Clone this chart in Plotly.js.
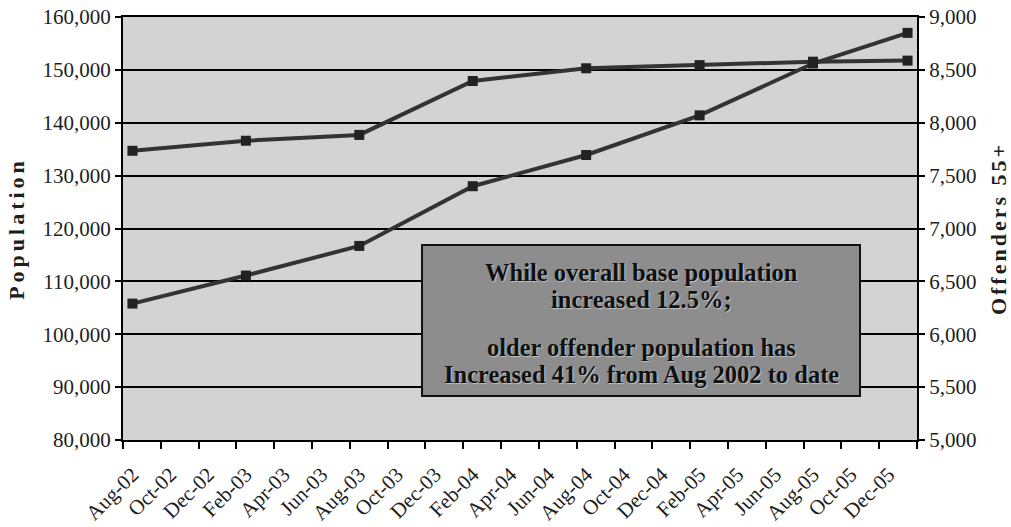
<!DOCTYPE html>
<html>
<head>
<meta charset="utf-8">
<script src="https://cdn.plot.ly/plotly-3.0.1.min.js"></script>
<style>
  html, body { margin: 0; padding: 0; background: #ffffff; }
  #chart { width: 1011px; height: 527px; }
  .ytitle { letter-spacing: 4px; }
  .y2title { letter-spacing: 3px; }
</style>
</head>
<body>
<div id="chart"></div>
<script>
// ---- data ----
const pointMonths = ['Aug-02', 'Feb-03', 'Aug-03', 'Feb-04', 'Aug-04', 'Feb-05', 'Aug-05', 'Jan-06'];
const population = [134700, 136600, 137700, 147900, 150300, 150900, 151550, 151750];
const offenders55 = [6290, 6555, 6835, 7400, 7695, 8070, 8560, 8850];
const tickLabels = ['Aug-02', 'Oct-02', 'Dec-02', 'Feb-03', 'Apr-03', 'Jun-03', 'Aug-03',
  'Oct-03', 'Dec-03', 'Feb-04', 'Apr-04', 'Jun-04', 'Aug-04', 'Oct-04', 'Dec-04',
  'Feb-05', 'Apr-05', 'Jun-05', 'Aug-05', 'Oct-05', 'Dec-05'];
const boxLines = ['While overall base population', 'increased 12.5%;',
  'older offender population has', 'Increased 41% from Aug 2002 to date'];
const leftTitle = 'Population';
const rightTitle = 'Offenders 55+';

// ---- helpers ----
const MON = ['Jan','Feb','Mar','Apr','May','Jun','Jul','Aug','Sep','Oct','Nov','Dec'];
function monthIndex(s) {            // months since Aug-02
  const [m, y] = s.split('-');
  return (2000 + parseInt(y, 10) - 2002) * 12 + MON.indexOf(m) - 7;
}
const xPts = pointMonths.map(monthIndex);
const xLab = tickLabels.map(monthIndex);
const totalMonths = monthIndex('Jan-06') + 1;
const boundaries = [];
for (let b = -0.5; b <= totalMonths - 0.5 + 1e-9; b += 2) boundaries.push(b);

const serif = '"Liberation Serif"';
const lineStyle = { color: '#333333', width: 4 };
const markerStyle = { symbol: 'square', size: 10, color: '#222222' };

const traces = [
  { x: xPts, y: population, yaxis: 'y', type: 'scatter', mode: 'lines+markers',
    name: 'Population', line: lineStyle, marker: markerStyle },
  { x: xPts, y: offenders55, yaxis: 'y2', type: 'scatter', mode: 'lines+markers',
    name: 'Offenders 55+', line: lineStyle, marker: markerStyle }
];

const bx0 = 0.3766, bx1 = 0.9282, by0 = 0.104, by1 = 0.461;
const lineY = [0.397, 0.331, 0.2175, 0.1537];
const annotations = boxLines.map((t, i) => ({
  text: t, xref: 'paper', yref: 'paper', x: (bx0 + bx1) / 2, y: lineY[i],
  xanchor: 'center', yanchor: 'middle', showarrow: false,
  font: { family: serif, size: 24.5, color: '#101010', weight: 'bold',
          shadow: '1px 1px 1px rgba(235,235,235,0.6)' }
}));

const layout = {
  width: 1011, height: 527,
  margin: { l: 123, r: 94, t: 17, b: 87 },
  paper_bgcolor: '#ffffff',
  plot_bgcolor: '#d3d3d3',
  showlegend: false,
  font: { family: serif, color: '#1e1e1e', size: 20 },
  xaxis: {
    range: [-0.5, totalMonths - 0.5],
    tickmode: 'array', tickvals: xLab, ticktext: tickLabels,
    tickangle: -45, ticks: '', ticklabelstandoff: 12,
    tickfont: { family: serif, size: 21, color: '#1e1e1e' },
    showgrid: false, zeroline: false,
    showline: true, linecolor: '#000', linewidth: 2, mirror: true,
    minor: { tickmode: 'array', tickvals: boundaries, ticks: 'outside',
             ticklen: 7, tickwidth: 2, tickcolor: '#000', showgrid: false },
    fixedrange: true
  },
  yaxis: {
    range: [80000, 160000], dtick: 10000, tick0: 80000, tickformat: ',',
    ticks: 'outside', ticklen: 6, tickwidth: 2, tickcolor: '#000',
    showgrid: true, gridcolor: '#000', gridwidth: 2, zeroline: false,
    showline: true, linecolor: '#000', linewidth: 2,
    tickfont: { family: serif, size: 21, color: '#1e1e1e' },
    title: { text: leftTitle, standoff: 12,
             font: { family: serif, size: 22, color: '#1e1e1e', weight: 'bold' } }
  },
  yaxis2: {
    overlaying: 'y', side: 'right',
    range: [5000, 9000], dtick: 500, tick0: 5000, tickformat: ',',
    ticks: 'outside', ticklen: 6, tickwidth: 2, tickcolor: '#000',
    showgrid: false, zeroline: false,
    showline: true, linecolor: '#000', linewidth: 2,
    tickfont: { family: serif, size: 21, color: '#1e1e1e' },
    title: { text: rightTitle, standoff: 16,
             font: { family: serif, size: 22, color: '#1e1e1e', weight: 'bold' } }
  },
  shapes: [{
    type: 'rect', xref: 'paper', yref: 'paper', x0: bx0, x1: bx1, y0: by0, y1: by1,
    fillcolor: '#8d8d8d', line: { color: '#111', width: 2 }, layer: 'above'
  }],
  annotations: annotations
};

Plotly.newPlot('chart', traces, layout, { displayModeBar: false, staticPlot: true });
</script>
</body>
</html>
